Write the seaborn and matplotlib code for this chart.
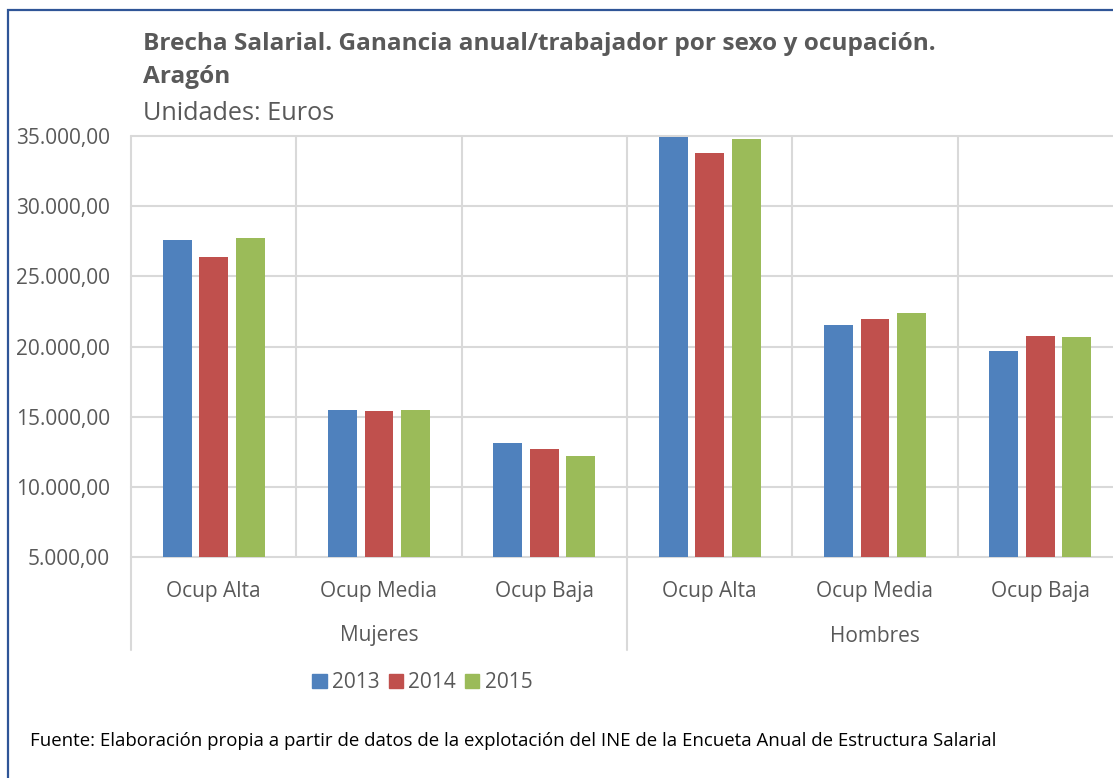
import matplotlib
matplotlib.use("Agg")
import matplotlib.pyplot as plt
import matplotlib.patches as mpatches
import matplotlib.transforms as mtransforms
import pandas as pd
import seaborn as sns

# Data (euros)
sexos = ["Mujeres", "Hombres"]
ocupaciones = ["Ocup Alta", "Ocup Media", "Ocup Baja"]
anios = ["2013", "2014", "2015"]
valores_2013 = [27600, 15500, 13120, 34950, 21500, 19650]
valores_2014 = [26400, 15380, 12720, 33770, 21930, 20770]
valores_2015 = [27750, 15450, 12220, 34790, 22360, 20680]
y_ticks = [5000, 10000, 15000, 20000, 25000, 30000, 35000]

colores = ["#4F81BD", "#C0504D", "#9BBB59"]
gris_texto = "#595959"
gris_linea = "#D9D9D9"

# long table for seaborn
categorias = [f"{s}|{o}" for s in sexos for o in ocupaciones]
filas = []
for anio, vals in zip(anios, [valores_2013, valores_2014, valores_2015]):
    for cat, v in zip(categorias, vals):
        filas.append({"categoria": cat, "anio": anio, "valor": v})
df = pd.DataFrame(filas)

sns.set_theme(style="white")
plt.rcParams["font.family"] = ["Open Sans", "DejaVu Sans"]

W, H = 1113, 778
fig = plt.figure(figsize=(W / 100, H / 100), dpi=100)
fig.patch.set_facecolor("white")

# axes in pixel coordinates of the reference (right edge runs past the image)
left, right, top, bottom = 131, 1123, 136, 557
ax = fig.add_axes([left / W, 1 - bottom / H, (right - left) / W, (bottom - top) / H])

sns.barplot(
    data=df,
    x="categoria",
    y="valor",
    hue="anio",
    order=categorias,
    hue_order=anios,
    palette=colores,
    saturation=1,
    width=0.663,
    gap=0.21,
    linewidth=0,
    ax=ax,
    legend=False,
)

ax.set_ylim(5000, 35000)
ax.set_xlim(-0.5, 5.5)
ax.set_xlabel("")
ax.set_ylabel("")
for s in ax.spines.values():
    s.set_visible(False)

# horizontal gridlines
ax.set_yticks(y_ticks)
ax.set_yticklabels([f"{v:,.2f}".replace(",", "X").replace(".", ",").replace("X", ".") for v in y_ticks])
for v in y_ticks:
    ax.axhline(v, color=gris_linea, lw=1.5, zorder=0, clip_on=False)
ax.tick_params(axis="y", length=0, pad=15, labelsize=15, labelcolor=gris_texto)

# vertical separators between categories
for xb in [0.5, 1.5, 3.5, 4.5]:
    ax.axvline(xb, color=gris_linea, lw=1.5, zorder=0)
trans = mtransforms.blended_transform_factory(ax.transData, ax.transAxes)
y_low = 1 - (650 - top) / (bottom - top)
for xb in [-0.5, 2.5]:
    ax.plot([xb, xb], [1, y_low], color=gris_linea, lw=1.5, transform=trans,
            clip_on=False, zorder=0)

# category labels and group labels
ax.set_xticks(range(len(categorias)))
ax.set_xticklabels([c.split("|")[1] for c in categorias])
ax.tick_params(axis="x", length=0, pad=17, labelsize=15, labelcolor=gris_texto)
y_grupo = 1 - (636 - top) / (bottom - top)
for i, s in enumerate(sexos):
    ax.text(i * 3 + 1, y_grupo, s, transform=trans, ha="center", va="center",
            fontsize=15, color=gris_texto)

# legend
handles = [mpatches.Patch(color=c, label=a) for c, a in zip(colores, anios)]
fig.legend(
    handles=handles,
    loc="center left",
    bbox_to_anchor=(302 / W, 1 - 683 / H),
    ncol=3,
    frameon=False,
    fontsize=15,
    handlelength=0.68,
    handleheight=0.68,
    handletextpad=0.25,
    columnspacing=0.45,
    borderpad=0,
    labelcolor=gris_texto,
)

# titles
fig.text(143 / W, 1 - 44 / H, "Brecha Salarial. Ganancia anual/trabajador por sexo y ocupación.",
         fontsize=17.6, fontweight="bold", color=gris_texto, va="center", ha="left")
fig.text(143 / W, 1 - 77 / H, "Aragón", fontsize=17.6, fontweight="bold",
         color=gris_texto, va="center", ha="left")
fig.text(143 / W, 1 - 113 / H, "Unidades: Euros", fontsize=18.2,
         color=gris_texto, va="center", ha="left")

# footer
fig.text(30 / W, 1 - 741 / H,
         "Fuente: Elaboración propia a partir de datos de la explotación del INE de la Encueta Anual de Estructura Salarial",
         fontsize=13.4, color="black", va="center", ha="left")

# outer border (right and bottom edges fall outside the picture)
borde = mpatches.Rectangle((8 / W, -0.05), 1.2, (1 - 10 / H) + 0.05, transform=fig.transFigure,
                           fill=False, edgecolor="#2F5597", lw=1.6)
fig.add_artist(borde)

fig.savefig("out.png", dpi=100)
